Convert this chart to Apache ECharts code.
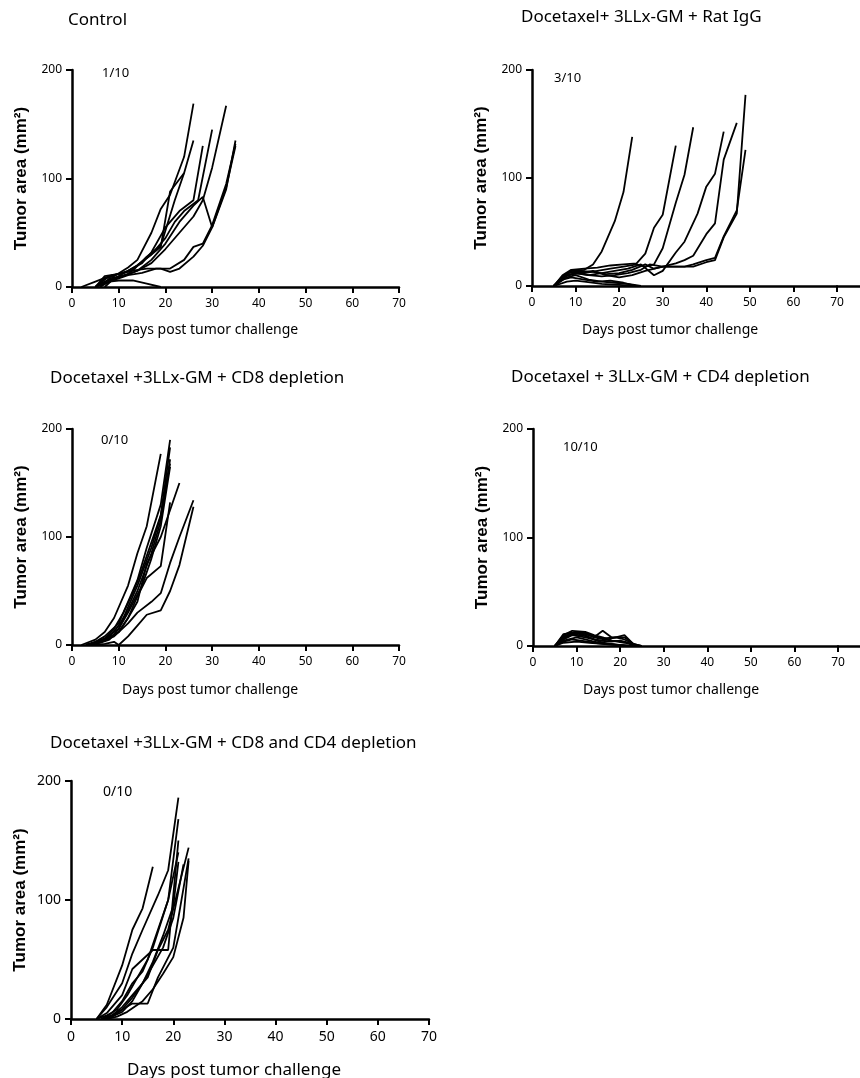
<!DOCTYPE html>
<html>
<head>
<meta charset="utf-8">
<script src="https://cdn.jsdelivr.net/npm/echarts@6/dist/echarts.min.js"></script>
<style>
html,body{margin:0;padding:0;background:#fff;}
#c{width:860px;height:1078px;}
</style>
</head>
<body>
<div id="c"></div>
<script>
// ---- Data (days post tumor challenge, tumor area mm^2), one sub-array per mouse ----
var xTicks = [0, 10, 20, 30, 40, 50, 60, 70];
var yTicks = [0, 100, 200];

var panelTitles = [
  'Control',
  'Docetaxel+ 3LLx-GM + Rat IgG',
  'Docetaxel +3LLx-GM + CD8 depletion',
  'Docetaxel + 3LLx-GM + CD4 depletion',
  'Docetaxel +3LLx-GM + CD8 and CD4 depletion'
];
var tumorFree = ['1/10', '3/10', '0/10', '10/10', '0/10'];
var xAxisTitle = 'Days post tumor challenge';
var yAxisTitle = 'Tumor area (mm²)';

var ctrlDays = [
  [5,7,9,12,14,17,19,21,24,26],
  [5,7,9,12,14,17,19,21,24,26],
  [6,8,10,12,15,17,20,23,26,28],
  [7,9,11,14,17,20,23,26,28,30,33],
  [5,8,10,12,14,17,20,22,24,27,30],
  [2,5,8,10,13,16,19,21,23,26,28,30,33,35],
  [5,8,10,12,15,18,21,24,26,28,30,33,35],
  [6,8,11,14,17,20,23,26,28,30,33,35],
  [5,8,10,13,16,19],
  [5,7,10,13,16,19,22,24]
];
var ctrlArea = [
  [0,8,10,18,25,50,72,85,120,169],
  [0,5,8,12,20,30,37,88,105,135],
  [0,5,10,15,22,32,55,70,80,130],
  [0,8,10,15,22,35,50,65,80,110,167],
  [0,10,12,15,20,30,45,60,70,80,145],
  [0,5,10,12,15,17,17,14,17,28,38,55,90,135],
  [0,5,8,11,13,17,17,25,37,40,57,95,132],
  [0,8,10,15,25,40,60,75,83,55,92,130],
  [0,5,6,6,3,0],
  [0,10,12,15,28,38,80,105]
];

var igDays = [
  [5,7,9,12,14,16,19,21,23],
  [5,7,9,12,15,18,21,24,26,28,30,33],
  [5,7,9,12,15,18,21,24,26,28,30,33,35,37],
  [5,7,10,13,16,19,22,25,28,30,33,35,38,40,42,44],
  [5,8,10,13,16,19,22,25,27,30,33,35,37,40,42,44,47],
  [5,8,11,14,17,20,23,26,28,30,33,37,40,42,44,47,49],
  [5,8,11,14,17,20,23,26,30,33,35,37,40,42,44,47,49],
  [5,8,10,13,16,19,22,25],
  [5,7,9,12,15,18,21,24],
  [5,8,10,12,16,20,24]
];
var igArea = [
  [0,8,14,15,20,32,60,87,138],
  [0,10,15,16,17,19,20,21,30,54,66,130],
  [0,9,13,12,14,16,18,20,18,20,35,77,103,147],
  [0,8,12,10,12,14,16,20,10,14,31,41,67,92,104,143],
  [0,10,12,10,9,10,12,15,20,18,21,24,28,48,58,117,151],
  [0,12,14,13,11,12,15,20,16,18,18,18,22,24,45,67,177],
  [0,10,12,14,10,8,10,14,18,18,18,20,24,26,46,70,126],
  [0,8,10,6,4,3,2,0],
  [0,6,8,6,4,5,3,0],
  [0,4,5,4,2,1,0]
];

var cd8Days = [
  [2,5,7,9,12,14,16,19],
  [3,5,7,10,12,14,16,19,21],
  [3,5,7,10,12,14,17,19,21],
  [4,6,8,10,12,14,17,19,21],
  [4,6,8,10,12,15,17,19,21],
  [4,6,8,10,12,14,16,19,21,23],
  [3,5,7,10,12,14,16,19,21],
  [3,5,7,9,12,14,17,19,21,23,26],
  [5,7,9,10,12,14,16,19,21,23,26],
  [3,5,7,9,11,13,15,17,19,21]
];
var cd8Area = [
  [0,5,12,25,55,85,110,177],
  [0,3,8,20,40,60,90,130,190],
  [0,3,6,15,35,55,90,120,183],
  [0,3,8,18,32,50,85,115,172],
  [0,2,5,15,30,55,80,110,165],
  [0,3,6,12,25,40,75,100,125,150],
  [0,2,5,12,25,45,62,73,132],
  [0,2,4,8,20,30,40,48,76,100,134],
  [0,1,3,0,8,18,28,32,50,74,128],
  [0,2,6,15,30,48,70,95,120,168]
];

var cd4Days = [
  [5,7,9,12,14,16,18,21,23,25],
  [5,7,9,12,14,16,18,21,23,25],
  [5,7,9,12,14,16,19,21,23,25],
  [5,7,10,12,14,16,19,21,24],
  [5,7,10,12,14,17,20,23],
  [5,7,9,12,14,16,18,21],
  [5,7,9,11,14,16,19,22],
  [5,8,10,12,15,18,21,24],
  [5,7,10,13,16,19,22],
  [5,7,9,12,15,18,20,24]
];
var cd4Area = [
  [0,10,14,13,10,8,5,3,1,0],
  [0,8,12,12,8,14,8,8,2,0],
  [0,6,10,8,6,5,8,10,2,0],
  [0,11,13,12,9,7,8,6,0],
  [0,5,8,6,4,2,1,0],
  [0,9,12,10,6,3,2,0],
  [0,4,6,5,3,2,1,0],
  [0,10,13,11,7,5,4,0],
  [0,3,4,3,2,1,0],
  [0,7,11,9,5,4,5,0]
];

var bothDays = [
  [5,7,10,12,14,16],
  [5,7,10,12,14,17,19,21],
  [5,7,10,12,14,16,19,21],
  [6,8,10,12,14,16,19,21],
  [6,8,10,12,15,17,19,21,23],
  [6,8,10,12,15,17,20,23],
  [6,8,10,12,14,16,18,20,22],
  [5,7,9,11,13,15,17,19,21],
  [6,8,10,12,14,16,18,20,21],
  [7,9,11,14,16,18,20,22,23]
];
var bothArea = [
  [0,12,45,75,93,128],
  [0,10,30,55,75,104,125,186],
  [0,5,20,42,50,58,58,150],
  [0,5,15,30,40,60,100,168],
  [0,3,10,20,35,58,75,110,144],
  [0,2,8,13,13,35,60,135],
  [0,2,6,15,30,45,60,85,130],
  [0,3,8,20,35,50,75,100,140],
  [0,3,8,18,30,48,70,95,132],
  [0,2,6,15,25,38,52,85,133]
];

var panelDays = [ctrlDays, igDays, cd8Days, cd4Days, bothDays];
var panelArea = [ctrlArea, igArea, cd8Area, cd4Area, bothArea];

// ---- Layout ----
var FONT = '"Noto Sans", "Open Sans", sans-serif';
var grids = [
  {left: 72,  top: 70,  width: 327, height: 217},
  {left: 532, top: 70,  width: 305, height: 216},
  {left: 72,  top: 429, width: 327, height: 216},
  {left: 533, top: 429, width: 305, height: 217},
  {left: 71,  top: 781, width: 358, height: 238}
];
// x-axis line continues past 70 to the page edge in the right-hand panels
var extGrids = [
  {left: 837, top: 70,  width: 23, height: 216},
  {left: 838, top: 429, width: 22, height: 217}
];
var tickFont = [12, 12, 12, 12, 14];

var titlePos = [[68, 20], [521, 17], [50, 378], [511, 377], [50, 743]];
var notePos = [[102, 73], [554, 78], [101, 440], [563, 447], [103, 792]];
var xNamePos = [[122, 330], [582, 330], [122, 690], [583, 690], [127, 1070]];
var xNameFont = [14, 14, 14, 14, 17];

var axisLineStyle = {color: '#000', width: 2.5};
var tickStyle = {show: true, inside: false, length: 6, lineStyle: {color: '#000', width: 2}};

var option = {
  animation: false,
  backgroundColor: '#fff',
  grid: grids.concat(extGrids).map(function (g) { return Object.assign({containLabel: false}, g); }),
  xAxis: grids.map(function (g, i) {
    return {
      type: 'value', gridIndex: i, min: xTicks[0], max: xTicks[xTicks.length - 1], interval: 10,
      axisLine: {show: true, onZero: false, lineStyle: axisLineStyle},
      axisTick: tickStyle,
      axisLabel: {show: true, color: '#000', fontSize: tickFont[i], fontFamily: FONT, margin: 11},
      splitLine: {show: false}
    };
  }).concat(extGrids.map(function (g, j) {
    return {
      type: 'value', gridIndex: 5 + j, min: 0, max: 1,
      axisLine: {show: true, onZero: false, lineStyle: axisLineStyle},
      axisTick: {show: false}, axisLabel: {show: false}, splitLine: {show: false}
    };
  })),
  yAxis: grids.map(function (g, i) {
    return {
      type: 'value', gridIndex: i, min: yTicks[0], max: yTicks[yTicks.length - 1], interval: 100,
      name: yAxisTitle, nameLocation: 'middle', nameRotate: 90, nameGap: 42,
      nameTextStyle: {color: '#000', fontSize: 17, fontWeight: 'bold', fontFamily: '"Liberation Sans", Arial, sans-serif'},
      axisLine: {show: true, onZero: false, lineStyle: axisLineStyle},
      axisTick: tickStyle,
      axisLabel: {show: true, color: '#000', fontSize: tickFont[i], fontFamily: FONT, margin: 10},
      splitLine: {show: false}
    };
  }).concat(extGrids.map(function (g, j) {
    return {type: 'value', gridIndex: 5 + j, min: 0, max: 1, show: false};
  })),
  graphic: [],
  series: []
};

panelTitles.forEach(function (t, i) {
  option.graphic.push({type: 'text', x: titlePos[i][0], y: titlePos[i][1],
    style: {text: t, font: '17px ' + FONT, fill: '#000', align: 'left', verticalAlign: 'middle'}});
  option.graphic.push({type: 'text', x: notePos[i][0], y: notePos[i][1],
    style: {text: tumorFree[i], font: (i === 4 ? 14 : 13) + 'px ' + FONT, fill: '#000', align: 'left', verticalAlign: 'middle'}});
  option.graphic.push({type: 'text', x: xNamePos[i][0], y: xNamePos[i][1],
    style: {text: xAxisTitle, font: xNameFont[i] + 'px ' + FONT, fill: '#000', align: 'left', verticalAlign: 'middle'}});
});

panelDays.forEach(function (daysList, p) {
  daysList.forEach(function (days, k) {
    var vals = panelArea[p][k];
    option.series.push({
      type: 'line', xAxisIndex: p, yAxisIndex: p,
      showSymbol: false, symbol: 'none', silent: true,
      lineStyle: {color: '#000', width: 1.8},
      data: days.map(function (d, j) { return [d, vals[j]]; })
    });
  });
});

var chart = echarts.init(document.getElementById('c'), null, {renderer: 'canvas'});
chart.setOption(option);
</script>
</body>
</html>
